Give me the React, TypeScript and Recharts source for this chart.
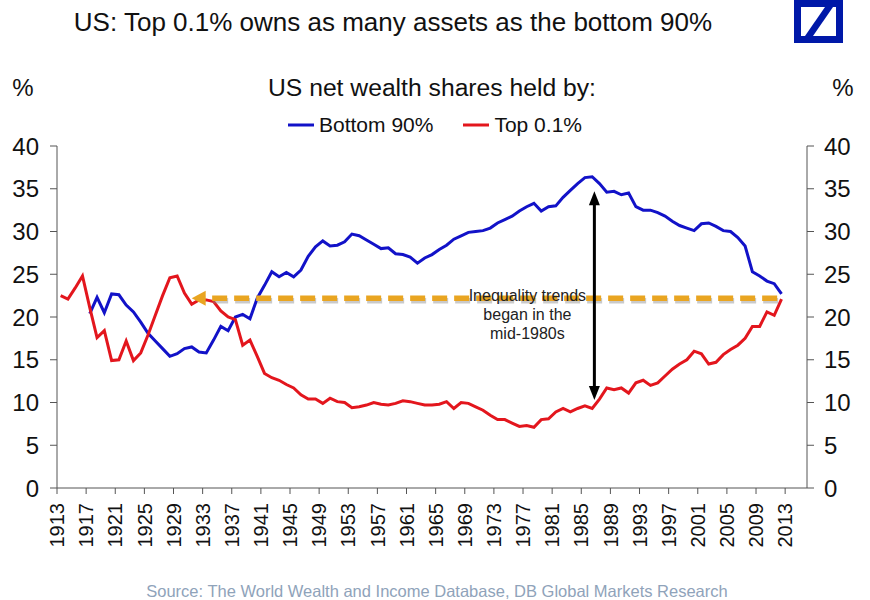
import React from "react";
import {
  LineChart,
  Line,
  XAxis,
  YAxis,
  Legend,
  ReferenceLine,
  ReferenceDot,
} from "recharts";

const FONT = "'Liberation Sans', Arial, sans-serif";
const BLUE = "#1212c8";
const RED = "#e3161d";
const ORANGE = "#e9a521";

// net wealth shares, 1913..2012 (one value per year)
const firstYear = 1913;

const topShare = [
  22.5, 22.1, 23.4, 24.8, 21.1, 17.6, 18.4, 14.9,
  15.0, 17.2, 14.9, 15.8, 17.9, 20.2, 22.5, 24.6, 24.8, 22.8,
  21.5, 22.0, 22.0, 21.8, 20.7, 20.0, 19.7, 16.7, 17.3, 15.4,
  13.4, 12.9, 12.6, 12.1, 11.7, 10.9, 10.4, 10.4, 9.9, 10.5,
  10.1, 10.0, 9.4, 9.5, 9.7, 10.0, 9.8, 9.7, 9.9, 10.2,
  10.1, 9.9, 9.7, 9.7, 9.8, 10.1, 9.3, 10.0, 9.9, 9.5,
  9.1, 8.5, 8.0, 8.0, 7.6, 7.2, 7.3, 7.1, 8.0, 8.1,
  8.9, 9.3, 8.9, 9.3, 9.6, 9.3, 10.4, 11.7, 11.5, 11.7,
  11.1, 12.3, 12.6, 12.0, 12.3, 13.1, 13.9, 14.5, 15.0, 16.0,
  15.7, 14.5, 14.7, 15.6, 16.2, 16.7, 17.5, 18.9, 18.9, 20.6,
  20.2, 22.1,
];

const bottomShare = [
  null, null, null, null, 20.4, 22.3, 20.5, 22.7,
  22.6, 21.4, 20.6, 19.4, 18.1, 17.2, 16.3, 15.4, 15.7, 16.3,
  16.5, 15.9, 15.8, 17.3, 18.9, 18.4, 20.0, 20.3, 19.8, 22.2,
  23.7, 25.3, 24.7, 25.2, 24.7, 25.5, 27.1, 28.2, 28.9, 28.3,
  28.4, 28.8, 29.7, 29.5, 29.0, 28.5, 28.0, 28.1, 27.4, 27.3,
  27.0, 26.3, 26.9, 27.3, 27.9, 28.4, 29.1, 29.5, 29.9, 30.0,
  30.1, 30.4, 31.0, 31.4, 31.8, 32.4, 32.9, 33.3, 32.4, 32.9,
  33.0, 34.0, 34.8, 35.6, 36.3, 36.4, 35.6, 34.6, 34.7, 34.3,
  34.5, 32.9, 32.5, 32.5, 32.2, 31.8, 31.2, 30.7, 30.4, 30.1,
  30.9, 31.0, 30.6, 30.1, 30.0, 29.3, 28.3, 25.3, 24.8, 24.2,
  23.9, 22.7,
];

const tickYears = [
  1913, 1917, 1921, 1925, 1929, 1933, 1937, 1941, 1945, 1949, 1953, 1957,
  1961, 1965, 1969, 1973, 1977, 1981, 1985, 1989, 1993, 1997, 2001, 2005,
  2009, 2013,
];
const valueTicks = [0, 5, 10, 15, 20, 25, 30, 35, 40];

// annotations (in data units)
const parityArrow = { fromYear: 1931.0, toYear: 2011.4, level: 22.2 };
const gapArrow = { year: 1986.3, low: 10.3, high: 34.7 };
const noteAnchor = { year: 1977.1, level: 22.2 };
const noteLines = ["Inequality trends", "began in the", "mid-1980s"];

const rows = topShare.map((v, i) => ({
  year: firstYear + i,
  top: v,
  bottom: bottomShare[i],
}));

// years are categories: ticks sit on the category boundaries
const xTicks = tickYears.map((y) => y - 0.5);

const YearTick = (props: any) => {
  const { x, y, payload } = props;
  return (
    <text
      x={x}
      y={y}
      transform={`rotate(-90 ${x} ${y})`}
      textAnchor="end"
      dy="0.36em"
      fontSize={20}
      fontFamily={FONT}
      fill="#111"
    >
      {Math.round(payload.value + 0.5)}
    </text>
  );
};

const ParityArrowShape = (props: any) => {
  const { x1, x2, y1 } = props;
  const left = Math.min(x1, x2);
  const right = Math.max(x1, x2);
  const y = y1;
  return (
    <g>
      <line
        x1={right + 1}
        y1={y + 2.5}
        x2={left + 15}
        y2={y + 2.5}
        stroke="#8a8a8a"
        strokeOpacity={0.45}
        strokeWidth={5.5}
        strokeDasharray="15 7"
      />
      <line
        x1={right}
        y1={y}
        x2={left + 12}
        y2={y}
        stroke={ORANGE}
        strokeWidth={5.5}
        strokeDasharray="15 7"
      />
      <polygon
        points={`${left},${y} ${left + 14},${y - 7.5} ${left + 14},${y + 7.5}`}
        fill={ORANGE}
      />
    </g>
  );
};

const GapArrowShape = (props: any) => {
  const { x1, y1, y2 } = props;
  const top = Math.min(y1, y2);
  const bot = Math.max(y1, y2);
  return (
    <g>
      <line x1={x1} y1={top + 12} x2={x1} y2={bot - 12} stroke="#000" strokeWidth={3} />
      <polygon points={`${x1},${top} ${x1 - 5.5},${top + 14} ${x1 + 5.5},${top + 14}`} fill="#000" />
      <polygon points={`${x1},${bot} ${x1 - 5.5},${bot - 14} ${x1 + 5.5},${bot - 14}`} fill="#000" />
    </g>
  );
};

const NoteShape = (props: any) => {
  const { cx, cy } = props;
  return (
    <text
      x={cx}
      y={cy}
      textAnchor="middle"
      fontSize={16}
      fontFamily={FONT}
      fill="#222"
    >
      {noteLines.map((t, i) => (
        <tspan key={t} x={cx} y={cy + 3 + i * 19}>
          {t}
        </tspan>
      ))}
    </text>
  );
};

const LegendContent = (props: any) => {
  const payload = (props.payload || []).filter((p: any) => p.type !== "none");
  return (
    <div
      style={{
        display: "flex",
        justifyContent: "center",
        alignItems: "center",
        fontFamily: FONT,
        fontSize: 21,
        color: "#111",
      }}
    >
      {payload.map((p: any, i: number) => (
        <div
          key={p.value}
          style={{ display: "flex", alignItems: "center", marginLeft: i ? 30 : 0 }}
        >
          <svg width={26} height={10} style={{ marginRight: 5 }}>
            <line x1={0} y1={5} x2={26} y2={5} stroke={p.color} strokeWidth={3} />
          </svg>
          <span>{p.value}</span>
        </div>
      ))}
    </div>
  );
};

export default function App() {
  return (
    <div
      style={{
        position: "absolute",
        left: 0,
        top: 0,
        width: 870,
        height: 600,
        background: "#fff",
        fontFamily: FONT,
      }}
    >
      <LineChart
        width={870}
        height={600}
        data={rows}
        margin={{ top: 146, right: 0, bottom: 0, left: 0 }}
      >
        <XAxis
          dataKey="year"
          type="number"
          domain={[firstYear - 0.5, 2015.5]}
          ticks={xTicks}
          interval={0}
          height={112}
          tickSize={6}
          tickMargin={9}
          stroke="#555"
          tick={<YearTick />}
        />
        <YAxis
          yAxisId="left"
          type="number"
          domain={[0, 40]}
          ticks={valueTicks}
          interval={0}
          width={57}
          tickSize={7}
          tickMargin={11}
          stroke="#555"
          tick={{ fontSize: 24, fill: "#111", fontFamily: FONT }}
        />
        <YAxis
          yAxisId="right"
          orientation="right"
          type="number"
          domain={[0, 40]}
          ticks={valueTicks}
          interval={0}
          width={63}
          tickSize={7}
          tickMargin={10}
          stroke="#555"
          tick={{ fontSize: 24, fill: "#111", fontFamily: FONT }}
        />
        <Legend
          layout="horizontal"
          verticalAlign="middle"
          align="center"
          wrapperStyle={{ top: 113, left: 0, width: 870 }}
          content={<LegendContent />}
        />
        {/* carries the right-hand scale; drawn without a stroke */}
        <Line
          yAxisId="right"
          type="linear"
          dataKey="top"
          stroke="none"
          dot={false}
          activeDot={false}
          legendType="none"
          isAnimationActive={false}
        />
        <Line
          yAxisId="left"
          type="linear"
          dataKey="bottom"
          name="Bottom 90%"
          stroke={BLUE}
          strokeWidth={3}
          dot={false}
          legendType="plainline"
          isAnimationActive={false}
        />
        <Line
          yAxisId="left"
          type="linear"
          dataKey="top"
          name="Top 0.1%"
          stroke={RED}
          strokeWidth={3}
          dot={false}
          legendType="plainline"
          isAnimationActive={false}
        />
        <ReferenceDot
          yAxisId="left"
          x={noteAnchor.year}
          y={noteAnchor.level}
          r={0}
          shape={<NoteShape />}
        />
        <ReferenceLine
          yAxisId="left"
          segment={[
            { x: parityArrow.fromYear, y: parityArrow.level },
            { x: parityArrow.toYear, y: parityArrow.level },
          ]}
          shape={<ParityArrowShape />}
        />
        <ReferenceLine
          yAxisId="left"
          segment={[
            { x: gapArrow.year, y: gapArrow.low },
            { x: gapArrow.year, y: gapArrow.high },
          ]}
          shape={<GapArrowShape />}
        />
      </LineChart>
      <svg
        width={870}
        height={600}
        style={{ position: "absolute", left: 0, top: 0, pointerEvents: "none" }}
      >
        <text x={393} y={31} textAnchor="middle" fontSize={26} fill="#111" fontFamily={FONT}>
          US: Top 0.1% owns as many assets as the bottom 90%
        </text>
        <rect x={797.5} y={3.5} width={42} height={36} fill="none" stroke="#0018a8" strokeWidth={7} />
        <polygon points="805,36 813,36 833,7 825,7" fill="#0018a8" />
        <text x={432} y={96} textAnchor="middle" fontSize={24.7} fill="#111" fontFamily={FONT}>
          US net wealth shares held by:
        </text>
        <text x={23} y={96} textAnchor="middle" fontSize={24} fill="#111" fontFamily={FONT}>
          %
        </text>
        <text x={843} y={96} textAnchor="middle" fontSize={24} fill="#111" fontFamily={FONT}>
          %
        </text>
        <text x={437} y={597} textAnchor="middle" fontSize={16.5} fill="#8fa3ba" fontFamily={FONT}>
          Source: The World Wealth and Income Database, DB Global Markets Research
        </text>
      </svg>
    </div>
  );
}
